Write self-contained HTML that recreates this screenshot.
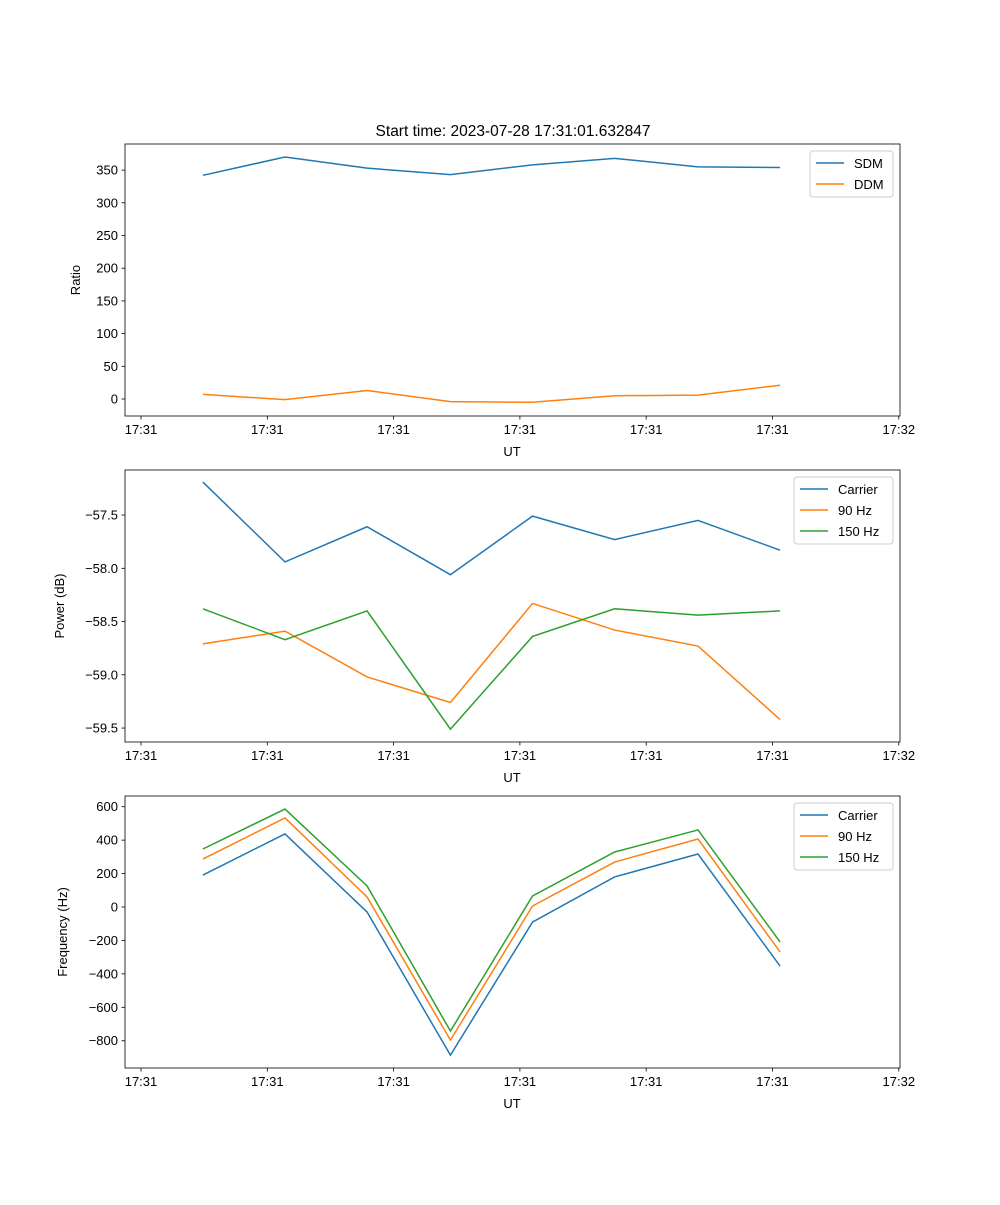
<!DOCTYPE html>
<html><head><meta charset="utf-8"><style>
body{margin:0;background:#fff}
svg text{font-family:"Liberation Sans","DejaVu Sans",sans-serif;fill:#000}
</style></head><body>
<svg id="fig" width="1000" height="1200" xmlns="http://www.w3.org/2000/svg"></svg>
<script>
const times=[4.9,11.4,17.9,24.5,31.0,37.5,44.1,50.6];
const tickTimes=[0,10,20,30,40,50,60];
const tickLabels=["17:31","17:31","17:31","17:31","17:31","17:31","17:32"];
const sdm=[342,370,353,343,358,368,355,354];
const ddm=[7,-1,13,-4,-5,5,6,21];
const pCarrier=[-57.19,-57.94,-57.61,-58.06,-57.51,-57.73,-57.55,-57.83];
const p90=[-58.71,-58.59,-59.02,-59.26,-58.33,-58.58,-58.73,-59.42];
const p150=[-58.38,-58.67,-58.40,-59.51,-58.64,-58.38,-58.44,-58.40];
const fCarrier=[191,437,-30,-886,-90,180,317,-353];
const f90=[287,533,60,-796,6,269,407,-269];
const f150=[347,586,126,-742,66,329,461,-209];
const ticks1=[0,50,100,150,200,250,300,350];
const ticks2=[-57.5,-58.0,-58.5,-59.0,-59.5];
const ticks3=[600,400,200,0,-200,-400,-600,-800];
const C=["#1f77b4","#ff7f0e","#2ca02c"];
const NS="http://www.w3.org/2000/svg";
const svg=document.getElementById('fig');
function mk(tag,attrs,parent){const e=document.createElementNS(NS,tag);for(const k in attrs)e.setAttribute(k,attrs[k]);(parent||svg).appendChild(e);return e;}
const X0=125,X1=900;
function xs(t){return 141+t*12.63;}
function panel(name,top,bot,ymin,ymax,yticks,fmt,ylabel,ylx,series,names,legW){
  const g=mk('g',{});
  
  
  const ys=v=>bot-(v-ymin)/(ymax-ymin)*(bot-top);
  series.forEach((s,i)=>{
    const p=mk('polyline',{points:s.map((v,j)=>xs(times[j])+','+ys(v)).join(' '),fill:'none',stroke:C[i],'stroke-width':1.5},g);
    
    
  });
  const fr=mk('rect',{x:X0,y:top,width:X1-X0,height:bot-top,fill:'none',stroke:'#000','stroke-width':0.8},g);
  
  
  tickTimes.forEach((t,i)=>{
    mk('line',{x1:xs(t),x2:xs(t),y1:bot,y2:bot+3.5,stroke:'#000','stroke-width':0.8},g);
    const tx=mk('text',{x:xs(t),y:bot+18,'font-size':13,'text-anchor':'middle'},g);tx.textContent=tickLabels[i];
    
    
  });
  yticks.forEach(v=>{
    mk('line',{x1:X0-3.5,x2:X0,y1:ys(v),y2:ys(v),stroke:'#000','stroke-width':0.8},g);
    const tx=mk('text',{x:X0-7,y:ys(v)+4.5,'font-size':13,'text-anchor':'end'},g);tx.textContent=fmt(v);
    
    
  });
  const xl=mk('text',{x:512,y:bot+40,'font-size':13,'text-anchor':'middle'},g);xl.textContent='UT';
  
  
  const cy=(top+bot)/2;
  const yl=mk('text',{x:ylx,y:cy,'font-size':13,'text-anchor':'middle',transform:'rotate(-90 '+ylx+' '+cy+')'},g);yl.textContent=ylabel;
  
  
  const lx=893-legW,ly=top+7,lh=4+names.length*21;
  const lg=mk('g',{},g);
  
  
  mk('rect',{x:lx,y:ly,width:legW,height:lh,rx:3,fill:'#fff','fill-opacity':0.8,stroke:'#ccc'},lg);
  names.forEach((n,i)=>{
    const yy=ly+12+i*21;
    mk('line',{x1:lx+6,x2:lx+34,y1:yy,y2:yy,stroke:C[i],'stroke-width':1.5},lg);
    const t=mk('text',{x:lx+44,y:yy+5,'font-size':13},lg);t.textContent=n;
    
    
  });
}
const title=mk('text',{x:513,y:136,'font-size':15.5,'text-anchor':'middle'});
title.textContent='Start time: 2023-07-28 17:31:01.632847';


panel('ratio',144,416,-26,389.9,ticks1,v=>String(v),'Ratio',80,[sdm,ddm],['SDM','DDM'],83);
panel('power',470,742,-59.631,-57.077,ticks2,v=>'\u2212'+Math.abs(v).toFixed(1),'Power (dB)',64,[pCarrier,p90,p150],['Carrier','90 Hz','150 Hz'],99);
panel('frequency',796,1068,-963,664,ticks3,v=>v<0?'\u2212'+Math.abs(v):String(v),'Frequency (Hz)',67,[fCarrier,f90,f150],['Carrier','90 Hz','150 Hz'],99);
</script>
</body></html>
